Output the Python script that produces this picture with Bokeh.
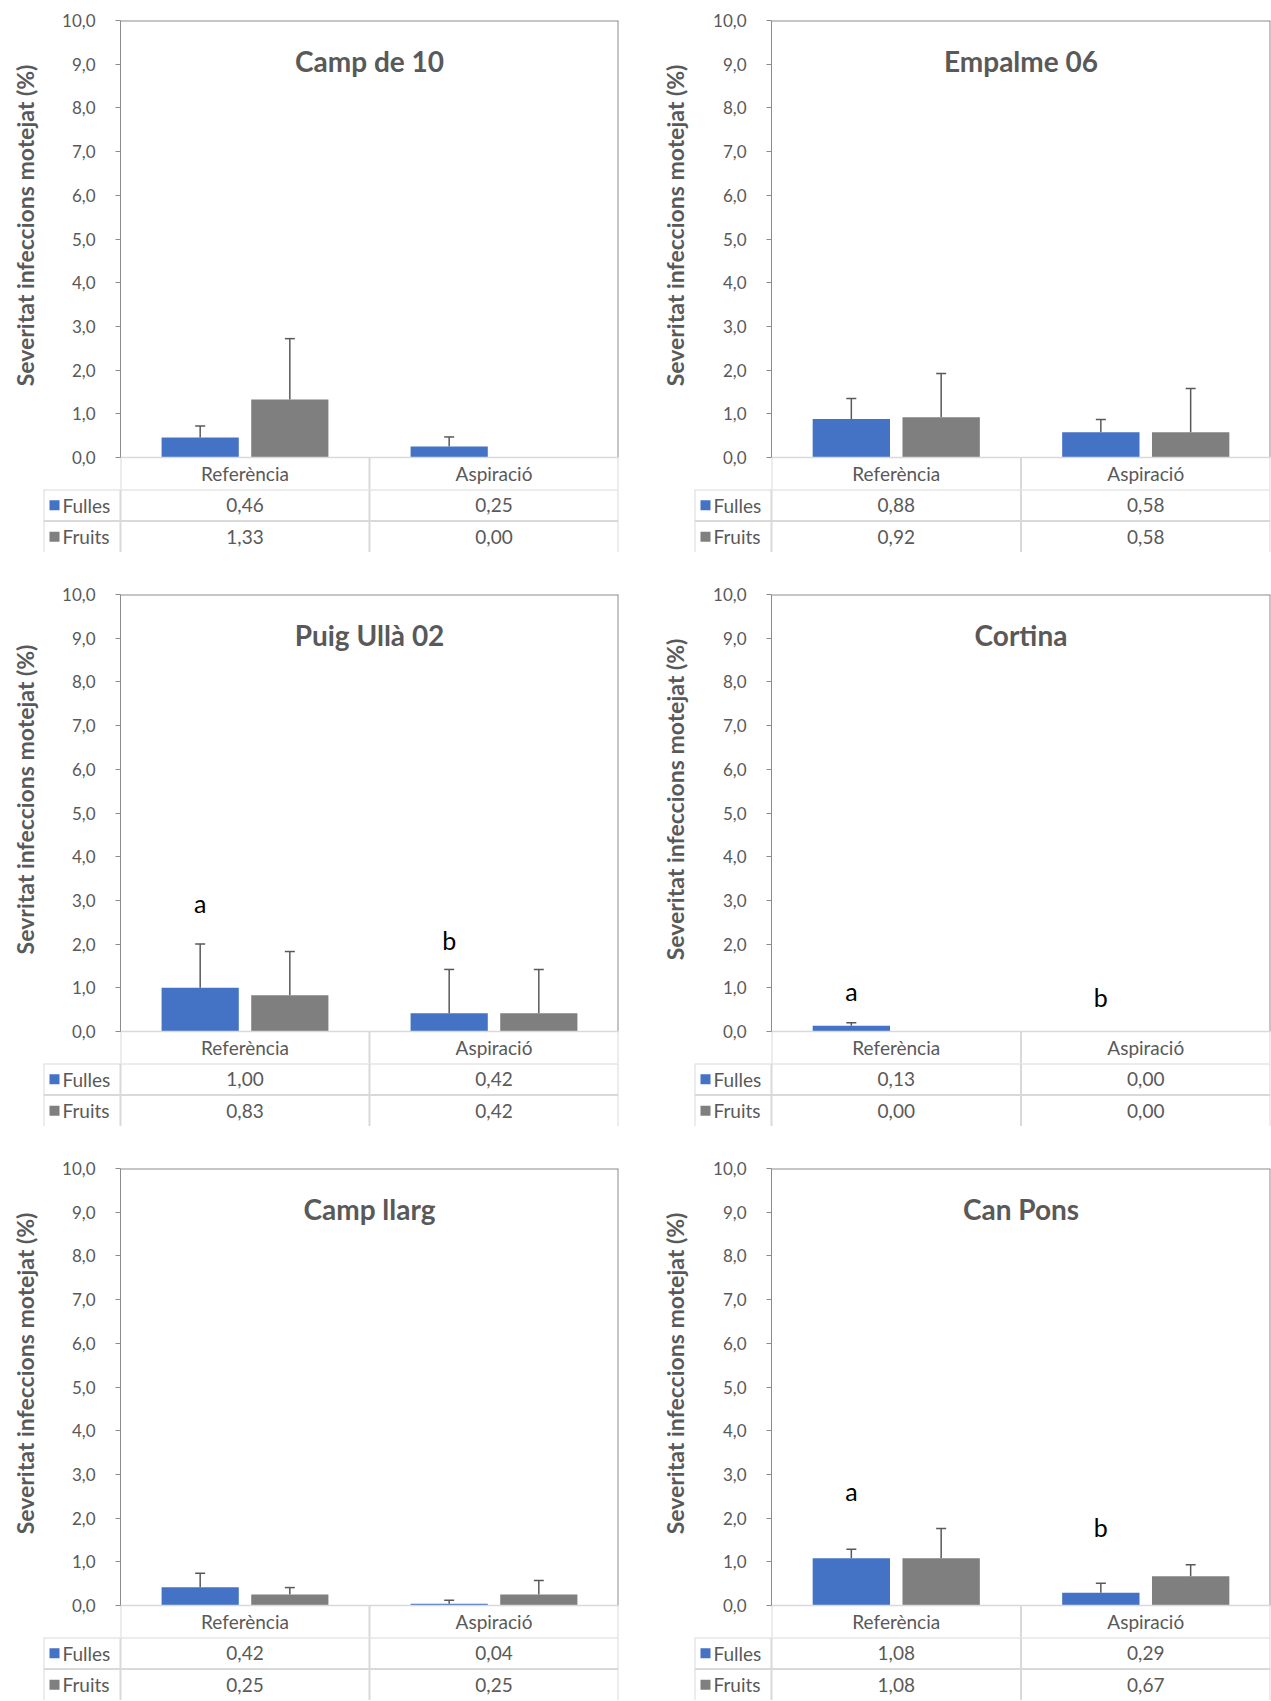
import math
from bokeh.plotting import figure
from bokeh.layouts import column, row
from bokeh.models import (Range1d, FactorRange, ColumnDataSource, Whisker, TeeHead,
                          FixedTicker, Label, CustomJSTickFormatter)
from bokeh.transform import dodge
from bokeh.core.properties import value
from bokeh.embed import file_html
from bokeh.resources import INLINE

# ---------------- data ----------------
panels = ["Camp de 10", "Empalme 06", "Puig Ullà 02", "Cortina", "Camp llarg", "Can Pons"]
categories = ["Referència", "Aspiració"]
series = ["Fulles", "Fruits"]
fulles = [[0.46, 0.25], [0.88, 0.58], [1.00, 0.42], [0.13, 0.00], [0.42, 0.04], [1.08, 0.29]]
fruits = [[1.33, 0.00], [0.92, 0.58], [0.83, 0.42], [0.00, 0.00], [0.25, 0.25], [1.08, 0.67]]
fulles_sd = [[0.26, 0.22], [0.47, 0.29], [1.00, 1.00], [0.07, 0.00], [0.32, 0.08], [0.21, 0.22]]
fruits_sd = [[1.39, 0.00], [1.00, 1.00], [1.00, 1.00], [0.00, 0.00], [0.16, 0.32], [0.68, 0.26]]
y_titles = ["Severitat infeccions motejat (%)", "Severitat infeccions motejat (%)",
            "Sevritat infeccions motejat (%)", "Severitat infeccions motejat (%)",
            "Severitat infeccions motejat (%)", "Severitat infeccions motejat (%)"]
sig_letters = [[], [], ["a", "b"], ["a", "b"], [], ["a", "b"]]
sig_letter_y = [[], [], [2.95, 2.10], [0.92, 0.80], [], [2.63, 1.79]]
y_ticks = [0, 1, 2, 3, 4, 5, 6, 7, 8, 9, 10]

# ---------------- style ----------------
FONT = "Lato"
BLUE = "#4472C4"
GREY = "#7F7F7F"
TXT = "#595959"
AXC = "#8c8c8c"
GRIDC = "#d9d9d9"
series_colors = [BLUE, GREY]

FIG_W = [640, 631]
AXIS_LEFT = [120, 131]
LEG_LEFT = [43, 54]
RIGHT_B = [22, 1]
YT_W = 50                 # width of the strip holding the y title
YT_CX = [24, 34]          # centre of y title inside that strip
YT_CY = 225               # vertical centre of y title (px from top)
TOP_B = 20
PLOT_PX = 437
HDR_PX = 32
TABLE_PX = 63
YMAX = 10
PPU = PLOT_PX / YMAX
HDR = HDR_PX / PPU
DODGE = 0.18
BAR_W = 0.31
TABLE_FS = "19px"


def fmt(v):
    return f"{v:.2f}".replace(".", ",")


def make_panel(i, c):
    fw = FIG_W[c]
    plot_w = fw - AXIS_LEFT[c] - RIGHT_B[c]
    ncat = len(categories)
    ch = TOP_B + PLOT_PX + HDR_PX

    # strip with the y-axis title
    yt = figure(width=YT_W, height=ch, x_range=Range1d(0, YT_W), y_range=Range1d(0, ch),
                output_backend="svg", toolbar_location=None, tools="",
                x_axis_location=None, y_axis_location=None,
                min_border_left=0, min_border_right=0, min_border_top=0, min_border_bottom=0,
                outline_line_color=None, background_fill_color="white",
                border_fill_color="white", frame_align=False)
    yt.xgrid.visible = False
    yt.ygrid.visible = False
    yt.text(x=[YT_CX[c]], y=[ch - YT_CY], text=[y_titles[i]], angle=math.pi / 2,
            text_font=value(FONT), text_font_style="bold", text_font_size="23px",
            text_color=TXT, text_align="center", text_baseline="middle")

    p = figure(width=fw - YT_W, height=ch,
               x_range=FactorRange(factors=categories),
               y_range=Range1d(-HDR, YMAX),
               output_backend="svg", toolbar_location=None, tools="",
               x_axis_location=None,
               min_border_left=AXIS_LEFT[c] - YT_W, min_border_right=RIGHT_B[c],
               min_border_top=TOP_B, min_border_bottom=0,
               outline_line_color=None, background_fill_color="white",
               border_fill_color="white", frame_align=False)
    p.xgrid.visible = False
    p.ygrid.visible = False
    ax = p.yaxis[0]
    ax.ticker = FixedTicker(ticks=y_ticks)
    ax.bounds = (0, YMAX)
    ax.formatter = CustomJSTickFormatter(code="return tick.toFixed(1).replace('.', ',');")
    ax.major_label_text_font = FONT
    ax.major_label_text_font_size = "17px"
    ax.major_label_text_color = TXT
    ax.major_label_standoff = 20
    ax.axis_line_color = AXC
    ax.major_tick_line_color = AXC
    ax.major_tick_in = 0
    ax.major_tick_out = 5
    ax.minor_tick_line_color = None

    src = ColumnDataSource(dict(cat=categories, fulles=fulles[i], fruits=fruits[i]))
    p.vbar(x=dodge("cat", -DODGE, range=p.x_range), top="fulles", width=BAR_W,
           source=src, fill_color=BLUE, line_color=None)
    p.vbar(x=dodge("cat", DODGE, range=p.x_range), top="fruits", width=BAR_W,
           source=src, fill_color=GREY, line_color=None)

    # error bars (upper only)
    for vals, sds, off in ((fulles[i], fulles_sd[i], -DODGE), (fruits[i], fruits_sd[i], DODGE)):
        cats = [categories[k] for k in range(ncat) if sds[k] > 0]
        low = [vals[k] for k in range(ncat) if sds[k] > 0]
        up = [vals[k] + sds[k] for k in range(ncat) if sds[k] > 0]
        if not cats:
            continue
        es = ColumnDataSource(dict(cat=cats, lower=low, upper=up))
        w = Whisker(base=dodge("cat", off, range=p.x_range), lower="lower", upper="upper",
                    source=es, dimension="height", line_color=TXT, line_width=1.5,
                    upper_head=TeeHead(size=10, line_color=TXT, line_width=1.5),
                    lower_head=None)
        p.add_layout(w)

    # plot-area border (top and right)
    p.segment(x0=[0], y0=[YMAX], x1=[ncat], y1=[YMAX], line_color=AXC, line_width=2)
    p.segment(x0=[ncat], y0=[0], x1=[ncat], y1=[YMAX], line_color=AXC, line_width=2)

    # header row of data table
    p.segment(x0=[0], y0=[0], x1=[ncat], y1=[0], line_color=GRIDC, line_width=1.5)
    p.segment(x0=list(range(ncat + 1)), y0=[-HDR] * (ncat + 1),
              x1=list(range(ncat + 1)), y1=[0] * (ncat + 1),
              line_color=GRIDC, line_width=2)
    p.text(x="cat", y=-HDR / 2, text="cat", source=src, text_font=value(FONT),
           text_font_size=TABLE_FS, text_color=TXT, text_align="center",
           text_baseline="middle")

    # title inside plot
    p.add_layout(Label(x=ncat / 2, y=YMAX - 40 / PPU, text=panels[i],
                       text_font=FONT, text_font_style="bold", text_font_size="28px",
                       text_color=TXT, text_align="center", text_baseline="middle"))

    # significance letters
    if sig_letters[i]:
        ls = ColumnDataSource(dict(cat=categories, t=sig_letters[i], y=sig_letter_y[i]))
        p.text(x=dodge("cat", -DODGE, range=p.x_range), y="y", text="t", source=ls,
               text_font=value(FONT), text_font_size="25px", text_color="black",
               text_align="center", text_baseline="middle")

    # ---- data table rows ----
    upp = ncat / plot_w
    L = (AXIS_LEFT[c] - LEG_LEFT[c]) * upp
    t = figure(width=fw, height=TABLE_PX, x_range=Range1d(-L, ncat), y_range=Range1d(0, 2),
               output_backend="svg", toolbar_location=None, tools="",
               x_axis_location=None, y_axis_location=None,
               min_border_left=LEG_LEFT[c], min_border_right=RIGHT_B[c],
               min_border_top=0, min_border_bottom=0, outline_line_color=None,
               background_fill_color="white", border_fill_color="white", frame_align=False)
    t.xgrid.visible = False
    t.ygrid.visible = False
    t.segment(x0=[-L, -L], y0=[2, 1], x1=[ncat, ncat], y1=[2, 1], line_color=GRIDC, line_width=2)
    vx = [-L] + list(range(ncat + 1))
    t.segment(x0=vx, y0=[0] * len(vx), x1=vx, y1=[2] * len(vx), line_color=GRIDC, line_width=2)
    row_y = [1.5, 0.5]
    t.scatter(x=[-L + 11 * upp] * 2, y=row_y, marker="square", size=10,
              fill_color=series_colors, line_color=None)
    t.text(x=[-L + 19 * upp] * 2, y=row_y, text=series, text_font=value(FONT),
           text_font_size=TABLE_FS, text_color=TXT, text_align="left", text_baseline="middle")
    xs, ys, txt = [], [], []
    for r, vals in enumerate((fulles[i], fruits[i])):
        for k in range(ncat):
            xs.append(k + 0.5)
            ys.append(row_y[r])
            txt.append(fmt(vals[k]))
    t.text(x=xs, y=ys, text=txt, text_font=value(FONT), text_font_size=TABLE_FS,
           text_color=TXT, text_align="center", text_baseline="middle")
    return column(row(yt, p, spacing=0), t, spacing=0)


rows = []
for r in range(3):
    rows.append(row(make_panel(2 * r, 0), make_panel(2 * r + 1, 1), spacing=0))
layout = column(*rows, spacing=22)

open("out.html", "w").write(file_html(layout, INLINE))
